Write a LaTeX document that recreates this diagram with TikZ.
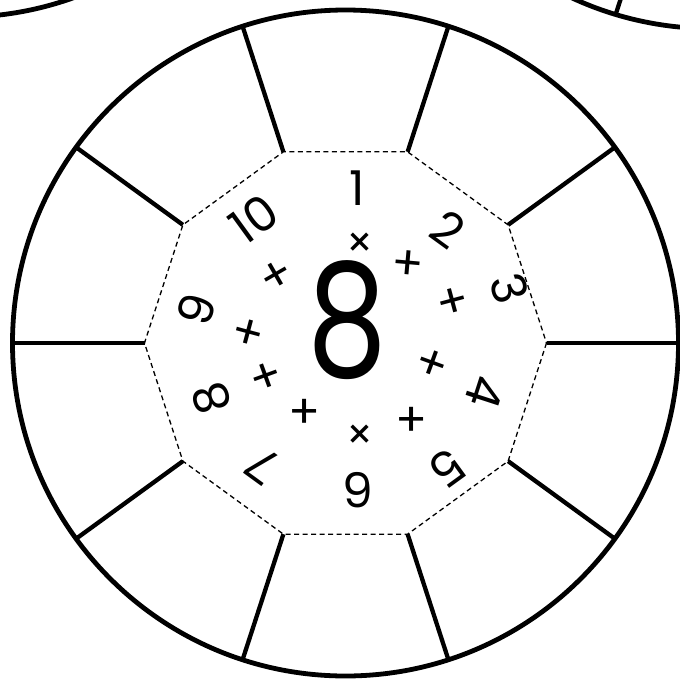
\documentclass[tikz,border=0pt]{standalone}
\usepackage{fontspec}
\setmainfont{Poppins}
\begin{document}
\begin{tikzpicture}[x=1pt,y=-1pt,
  rim/.style={line width=4.8pt},
  spoke/.style={line width=4.3pt},
  dashten/.style={line width=1.3pt, dash pattern=on 5pt off 3.5pt},
  num/.style={inner sep=0pt, font=\fontsize{48}{48}\selectfont},
  plusop/.style={inner sep=0pt, font=\fontsize{47}{47}\selectfont},
  timesop/.style={inner sep=0pt, font=\fontsize{42}{42}\selectfont},
  bigeight/.style={inner sep=0pt, font=\fontsize{158}{158}\selectfont, xscale=0.8}]
\useasboundingbox (0,0) rectangle (680,681);
\fill[white] (0,0) rectangle (680,681);
\clip (0,0) rectangle (680,681);
% neighbouring circles
\draw[rim] (-38.9,-315.8) circle[radius=333];
\draw[rim] (711.8,-304.4) circle[radius=333];
\coordinate (t1) at (615.7,14.4);
\coordinate (t2) at (630,-30);
\draw[spoke] (t1) -- (t2);
% main circle
\coordinate (c) at (345.5,343);
\draw[rim] (c) circle[radius=333];
\foreach \i [evaluate=\i as \a using 36*\i] in {0,...,9}{
  \coordinate (v\i) at ([shift={(345.5,343)}]\a:201);
  \coordinate (o\i) at ([shift={(345.5,343)}]\a:334);
  \draw[spoke] (v\i) -- (o\i);
}
\draw[dashten] (v0) -- (v1) -- (v2) -- (v3) -- (v4) -- (v5) -- (v6) -- (v7) -- (v8) -- (v9) -- cycle;
% numbers
\node[num, rotate=0]    (n1)  at (357,188) {1};
\node[num, rotate=-36]  (n2)  at (448,229) {2};
\node[num, rotate=-72]  (n3)  at (510,289) {3};
\node[num, rotate=-108] (n4)  at (485,392) {4};
\node[num, rotate=-144] (n5)  at (447,468) {5};
\node[num, rotate=180]  (n6)  at (358,490) {6};
\node[num, rotate=144]  (n7)  at (263,466) {7};
\node[num, rotate=108]  (n8)  at (212,398) {8};
\node[num, rotate=72]   (n9)  at (196,310) {9};
\node[num, rotate=36]   (n10) at (254,219) {10};
% operators
\node[timesop] (s1) at (360,245) {×};
\node[plusop, rotate=-5]  (s2)  at (408,265) {+};
\node[plusop, rotate=15]  (s3)  at (453,303) {+};
\node[plusop, rotate=-20] (s4)  at (432,365) {+};
\node[plusop, rotate=0]   (s5)  at (412,422) {+};
\node[timesop] (s6) at (360,437) {×};
\node[plusop, rotate=0]   (s7)  at (305,414) {+};
\node[plusop, rotate=20]  (s8)  at (267,378) {+};
\node[plusop, rotate=-15] (s9)  at (248,335) {+};
\node[plusop, rotate=30]  (s10) at (277,277) {+};
% centre
\node[bigeight] (big) at (347,320) {8};
\end{tikzpicture}
\end{document}
